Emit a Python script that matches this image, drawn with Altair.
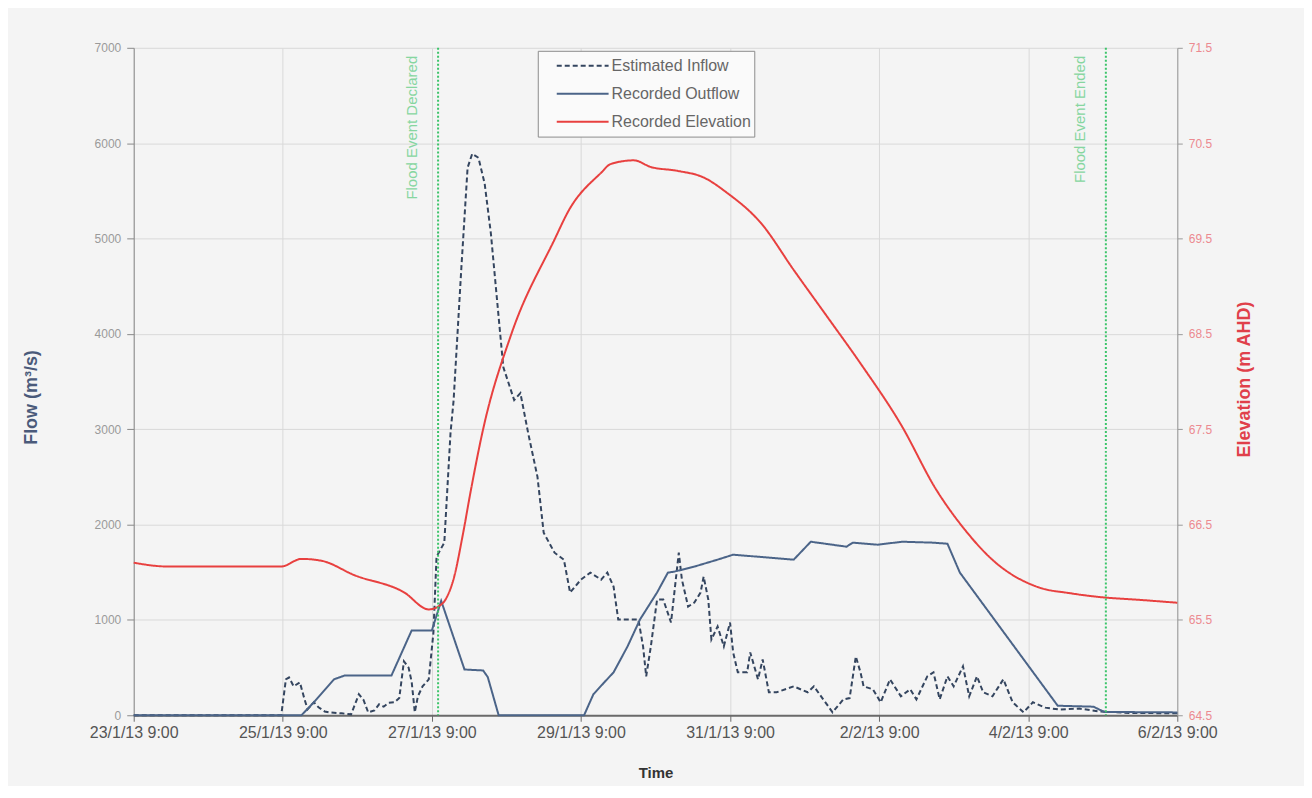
import altair as alt
import pandas as pd

START = pd.Timestamp("2013-01-23 09:00")

# ---- data (hours after 23/1/13 9:00) ----
inflow_hours = [0, 47.5, 49, 50, 51.5, 53.5, 55, 56, 58, 59.5, 61.5, 63, 67, 70, 72.5, 74, 75.5, 77.5, 79, 80.5,
                82, 84, 85.5, 87, 88.5, 89.5, 90.5, 91.5, 93, 95, 96.5, 97.5, 100, 102, 103, 105.5, 107.5, 109,
                111, 113, 115, 117.5, 119, 122.5, 124.5, 127, 130, 132, 135.5, 138.5, 140.5, 144, 147, 150.5,
                152.5, 154.5, 156, 162.5, 164, 165, 166.5, 168.5, 170.5, 173, 175.5, 176.5, 178.5, 180.5, 182.5,
                183.5, 185, 186, 188, 190, 192, 193, 194.5, 197.5, 198.5, 201, 202.5, 204.5, 207, 212.5, 217,
                219, 222, 225, 228.5, 230.5, 232.5, 234, 235, 238, 240.5, 243.5, 247, 250, 252, 255.5, 257.5,
                259.5, 262, 264, 267, 269, 271.5, 273.5, 276.5, 280, 283, 286.5, 289.5, 293.5, 298, 304.5, 311,
                320.5, 336]
inflow_flow = [0, 0, 377, 397, 303, 345, 167, 63, 136, 84, 40, 31, 20, 10, 220, 160, 30, 50, 115, 90,
               130, 136, 180, 565, 500, 350, 31, 199, 303, 377, 868, 1663, 1810, 2960, 3305, 4697, 5743, 5889,
               5847, 5575, 5052, 4174, 3651, 3305, 3379, 2960, 2500, 1914, 1705, 1632, 1287, 1423, 1496, 1423,
               1496, 1349, 1004, 1004, 722, 408, 722, 1213, 1213, 973, 1705, 1423, 1140, 1182, 1287,
               1454, 1213, 795, 931, 722, 973, 659, 450, 450, 659, 377, 586, 241, 241, 303, 241,
               303, 167, 31, 167, 180, 617, 450, 303, 272, 136, 377, 199, 272, 167, 408, 450,
               167, 408, 303, 513, 199, 408, 241, 199, 377, 136, 31, 136, 80, 60, 70, 40,
               25, 20]

outflow_hours = [0, 54, 58, 64.5, 68, 83, 89.5, 96, 99, 106.5, 112.5, 114, 117.5, 145, 148, 151.5, 154.5, 159,
                 163, 168.5, 172, 174, 180.5, 188, 193, 212.5, 218, 229.5, 231.5, 239.5, 247.5, 257.5, 262,
                 266, 297.5, 309, 312.5, 336]
outflow_flow = [0, 0, 136, 377, 418, 418, 890, 890, 1200, 480, 470, 400, 0, 0, 220, 345, 450, 722,
                1004, 1287, 1496, 1506, 1559, 1632, 1684, 1632, 1820, 1768, 1810, 1789, 1820, 1810, 1799,
                1496, 100, 90, 35, 30]

elev_hours = [0, 11, 47.5, 54, 60.5, 71, 87, 95, 98, 100.5, 103, 106, 108.5, 112.5, 121.5, 135.5, 140, 150.5,
              153.5, 161, 166.5, 175, 183.5, 191, 202, 212.5, 223.5, 234, 247, 258.5, 267.5, 276.5, 291.5,
              301.5, 311, 324, 336]
elev_m = [66.10, 66.06, 66.06, 66.14, 66.12, 65.97, 65.79, 65.61, 65.64, 65.72, 65.93, 66.40, 66.85, 67.50,
          68.49, 69.49, 69.79, 70.19, 70.28, 70.32, 70.25, 70.21, 70.14, 69.98, 69.66, 69.17, 68.67, 68.19,
          67.55, 66.86, 66.45, 66.13, 65.84, 65.78, 65.74, 65.71, 65.68]

event_hours = [98, 313]
event_labels = ["Flood Event Declared", "Flood Event Ended"]

tick_hours = [0, 48, 96, 144, 192, 240, 288, 336]
flow_ticks = [0, 1000, 2000, 3000, 4000, 5000, 6000, 7000]
elev_ticks = [64.5, 65.5, 66.5, 67.5, 68.5, 69.5, 70.5, 71.5]

series_names = ["Estimated Inflow", "Recorded Outflow", "Recorded Elevation"]
series_colors = ["#34455f", "#4b6488", "#e8403f"]
series_dash = [[5, 3], [1, 0], [1, 0]]

FONT = "Liberation Sans"
NBSP = "\u00a0"


def ts(h):
    return START + pd.Timedelta(hours=h)


def dt(h):
    t = ts(h)
    return alt.DateTime(year=t.year, month=t.month, date=t.day, hours=t.hour, minutes=t.minute)


flow_df = pd.concat([
    pd.DataFrame({"time": [ts(h) for h in inflow_hours], "flow": inflow_flow, "series": series_names[0]}),
    pd.DataFrame({"time": [ts(h) for h in outflow_hours], "flow": outflow_flow, "series": series_names[1]}),
])
elev_df = pd.DataFrame({"time": [ts(h) for h in elev_hours], "elev": elev_m, "series": series_names[2]})
event_df = pd.DataFrame({"time": [ts(h) for h in event_hours], "label": event_labels})

x_enc = alt.X(
    "time:T",
    scale=alt.Scale(domain=[dt(tick_hours[0]), dt(tick_hours[-1])], nice=False),
    axis=alt.Axis(
        values=[dt(h) for h in tick_hours], format="%-d/%-m/%y %-H:%M", title="Time",
        labelFont=FONT, labelFontSize=16, labelColor="#555555", labelPadding=3,
        titleFont=FONT, titleFontSize=15, titleFontWeight="bold", titleColor="#333333",
        titleY=57, titleBaseline="middle",
        grid=True, gridColor="#d9d9d9", domainColor="#6a6a6a", domainWidth=2,
        tickColor="#6a6a6a", tickSize=6, labelFlush=False,
    ),
)

legend = alt.Legend(
    orient="none", legendX=405, legendY=3, title=None,
    strokeColor="#8c8c8c", fillColor="#fafafa", padding=3,
    symbolType="stroke", symbolSize=2700, symbolStrokeWidth=2,
    symbolOffset=15, labelOffset=2, clipHeight=24, rowPadding=4,
    labelExpr="datum.label + '" + NBSP * 5 + "'", labelLimit=400,
    labelFont=FONT, labelFontSize=16, labelColor="#666666",
)
color_enc = alt.Color("series:N", scale=alt.Scale(domain=series_names, range=series_colors), legend=legend)
dash_enc = alt.StrokeDash("series:N", scale=alt.Scale(domain=series_names, range=series_dash), legend=legend)

flows = alt.Chart(flow_df).mark_line(strokeWidth=2).encode(
    x=x_enc,
    y=alt.Y("flow:Q", scale=alt.Scale(domain=[0, 7000], nice=False),
            axis=alt.Axis(values=flow_ticks, format="d", title="Flow (m³/s)", orient="left",
                          labelFont=FONT, labelFontSize=12, labelColor="#9a9a9a", labelPadding=6,
                          titleFont=FONT, titleFontSize=18, titleFontWeight="bold", titleColor="#4a5a7a",
                          titleX=-102, titleY=350, titleAngle=270, titleBaseline="middle", titleAlign="center",
                          grid=True, gridColor="#d9d9d9", domainColor="#8a8a8a", tickColor="#8a8a8a", tickSize=7)),
    color=color_enc,
    strokeDash=dash_enc,
    detail="series:N",
)

elev = alt.Chart(elev_df).mark_line(strokeWidth=2, interpolate="monotone").encode(
    x=alt.X("time:T"),
    y=alt.Y("elev:Q", scale=alt.Scale(domain=[64.5, 71.5], nice=False, zero=False),
            axis=alt.Axis(values=elev_ticks, format=".1f", title="Elevation (m AHD)", orient="right",
                          labelFont=FONT, labelFontSize=12, labelColor="#ec8a90", labelPadding=6,
                          titleFont=FONT, titleFontSize=18, titleFontWeight="bold", titleColor="#e0404a",
                          titleX=67, titleY=332, titleAngle=270, titleBaseline="middle", titleAlign="center",
                          grid=False, domainColor="#9a9a9a", tickColor="#9a9a9a", tickSize=5)),
    color=color_enc,
    strokeDash=dash_enc,
)

rules = alt.Chart(event_df).mark_rule(color="#3cc46a", strokeWidth=2, strokeDash=[2, 2]).encode(
    x=alt.X("time:T"),
)

labels = alt.Chart(event_df).mark_text(
    angle=270, align="right", baseline="bottom", dy=-18, font=FONT, fontSize=15, color="#86d6a0",
).encode(
    x=alt.X("time:T"),
    y=alt.value(8),
    text="label:N",
)

chart = (
    alt.layer(flows, elev, rules, labels)
    .resolve_scale(y="independent")
    .properties(width=1046, height=669, background="#f4f4f4",
                padding={"left": 15, "top": 33, "right": 51, "bottom": 5})
    .configure_view(stroke=None)
)

chart.save("out.html", embed_options={"renderer": "svg", "actions": False})
